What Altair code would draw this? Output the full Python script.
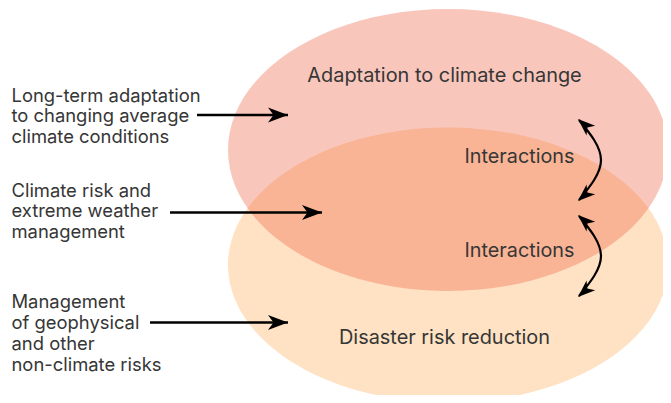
import altair as alt
import pandas as pd

# ---- data ----
ell_names = ["Adaptation", "DRR"]
ell_cx = [448, 448]
ell_cy = [150, 265]
ell_rx = [220, 220]
ell_ry = [141, 137.5]
ell_colors = ["#EF6546", "#FEE2C3"]
ell_opacity = [0.37, 1.0]

region_labels = ["Adaptation to climate change", "Interactions", "Interactions", "Disaster risk reduction"]
region_x = [444.5, 519.5, 519.5, 444.5]
region_y = [82.3, 163.3, 256.7, 344]
region_size = [19.9, 19.8, 19.8, 19.9]

side_labels = [
    "Long-term adaptation\nto changing average\nclimate conditions",
    "Climate risk and\nextreme weather\nmanagement",
    "Management\nof geophysical\nand other\nnon-climate risks",
]
side_x = [11.5, 11.5, 11.5]
side_y = [101.7, 196.7, 308.3]

arrow_y = [115, 212.5, 322.5]
arrow_x0 = [197, 170, 150]
arrow_x1 = [288, 322, 288]

curve_id = [1, 1, 1, 2, 2, 2]
curve_order = [0, 1, 2, 0, 1, 2]
curve_x = [579, 601, 579, 579, 601, 579]
curve_y = [120, 160, 200, 216, 256, 296]

tip_x = [578, 578, 578, 578]
tip_y = [119, 201, 215, 297]
tip_angle = [222, 138, 222, 138]

# plot area sized so that the page (8px margin) is exactly 671x403
W, H = 655, 387
X0, Y0 = 8, 8

xs = alt.Scale(domain=[X0, X0 + W], nice=False, zero=False)
ys = alt.Scale(domain=[Y0, Y0 + H], nice=False, zero=False, reverse=True)


def ellipse_path(a):
    k = 0.5523
    f = lambda v: f"{v:.4f}"
    return (f"M{f(a)},0 C{f(a)},{f(k)} {f(k*a)},1 0,1 "
            f"C{f(-k*a)},1 {f(-a)},{f(k)} {f(-a)},0 "
            f"C{f(-a)},{f(-k)} {f(-k*a)},-1 0,-1 "
            f"C{f(k*a)},-1 {f(a)},{f(-k)} {f(a)},0 Z")


layers = []
# bottom ellipse first, then top
for i in [1, 0]:
    df = pd.DataFrame({"name": [ell_names[i]], "x": [ell_cx[i]], "y": [ell_cy[i]]})
    a = ell_rx[i] / ell_ry[i]
    size = (2 * ell_ry[i]) ** 2
    layers.append(
        alt.Chart(df).mark_point(
            shape=ellipse_path(a), filled=True, size=size, color=ell_colors[i],
            opacity=ell_opacity[i], strokeWidth=0
        ).encode(x=alt.X("x:Q", scale=xs, axis=None), y=alt.Y("y:Q", scale=ys, axis=None))
    )

font = "Inter"
text_color = "#363636"

reg_df = pd.DataFrame({"t": region_labels, "x": region_x, "y": region_y, "s": region_size})
layers.append(
    alt.Chart(reg_df).mark_text(align="center", baseline="alphabetic", font=font, color=text_color).encode(
        x=alt.X("x:Q", scale=xs, axis=None), y=alt.Y("y:Q", scale=ys, axis=None),
        text="t:N", size=alt.Size("s:Q", scale=None)
    )
)

side_df = pd.DataFrame({"t": side_labels, "x": side_x, "y": side_y})
layers.append(
    alt.Chart(side_df).mark_text(align="left", baseline="alphabetic", font=font, fontSize=18.4,
                                 lineBreak="\n", lineHeight=20.8, color=text_color).encode(
        x=alt.X("x:Q", scale=xs, axis=None), y=alt.Y("y:Q", scale=ys, axis=None), text="t:N"
    )
)

arr_df = pd.DataFrame({"x0": arrow_x0, "x1": arrow_x1, "y": arrow_y})
layers.append(
    alt.Chart(arr_df).mark_rule(color="black", strokeWidth=2.4).encode(
        x=alt.X("x0:Q", scale=xs, axis=None), x2="x1:Q", y=alt.Y("y:Q", scale=ys, axis=None)
    )
)
arrow_shape = "M0,0 L-2,-0.75 L-1.45,0 L-2,0.75 Z"
layers.append(
    alt.Chart(pd.DataFrame({"x": arrow_x1, "y": arrow_y, "ang": [0, 0, 0]})).mark_point(
        shape=arrow_shape, filled=True, size=400, color="black", opacity=1, strokeWidth=0
    ).encode(x=alt.X("x:Q", scale=xs, axis=None), y=alt.Y("y:Q", scale=ys, axis=None),
             angle=alt.Angle("ang:Q", scale=None))
)

curve_df = pd.DataFrame({"id": curve_id, "o": curve_order, "x": curve_x, "y": curve_y})
layers.append(
    alt.Chart(curve_df).mark_line(color="black", strokeWidth=2.2, interpolate="natural").encode(
        x=alt.X("x:Q", scale=xs, axis=None), y=alt.Y("y:Q", scale=ys, axis=None),
        detail="id:N", order="o:Q"
    )
)
layers.append(
    alt.Chart(pd.DataFrame({"x": tip_x, "y": tip_y, "ang": tip_angle})).mark_point(
        shape=arrow_shape, filled=True, size=300, color="black", opacity=1, strokeWidth=0
    ).encode(x=alt.X("x:Q", scale=xs, axis=None), y=alt.Y("y:Q", scale=ys, axis=None),
             angle=alt.Angle("ang:Q", scale=None))
)

chart = alt.layer(*layers).properties(
    width=W, height=H, padding=0, autosize=alt.AutoSizeParams(type="none")
).configure_view(stroke=None)

chart.save("out.html", embed_options={"renderer": "svg", "actions": False})
